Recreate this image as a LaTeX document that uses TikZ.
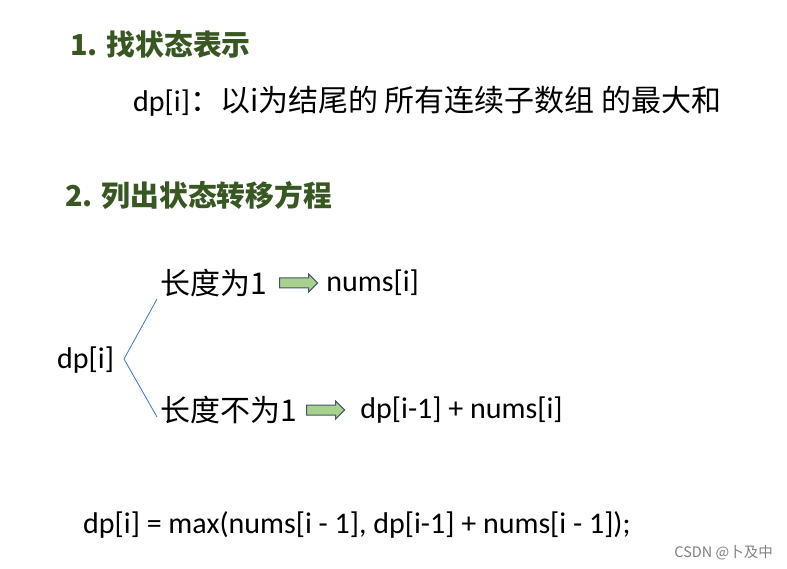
\documentclass[tikz,border=0pt]{standalone}
\usepackage{fontspec}
\setmainfont{Carlito}
\newfontfamily\cjk{Noto Sans CJK SC}
\usepackage{xcolor}
\usetikzlibrary{positioning,shapes.arrows}
\definecolor{headgreen}{HTML}{385723}
\definecolor{arrowfill}{HTML}{A9D18E}
\definecolor{arrowline}{HTML}{44546A}
\definecolor{branchblue}{HTML}{4472C4}
\newcommand{\zh}[1]{{\cjk\fontsize{30}{36}\selectfont #1}}

\begin{document}
\begin{tikzpicture}[
  x=1pt, y=-1pt,
  head/.style={anchor=west, inner sep=0pt, text=headgreen, font=\cjk\bfseries\fontsize{28.8}{34}\selectfont},
  txt/.style={anchor=west, inner sep=0pt, font=\fontsize{30}{36}\selectfont},
  blockarrow/.style={single arrow, draw=arrowline, fill=arrowfill, line width=1pt,
    inner xsep=0pt, inner ysep=4.5pt, minimum height=38pt,
    single arrow head extend=4pt, single arrow head indent=0pt, anchor=west}
]
\useasboundingbox (0,0) rectangle (787,569);

% headings
\node[head] (h1) at (70,44) {1. 找状态表示};
\node[txt] (def) at (133,101) {dp[i]\zh{：以i为结尾的 所有连续子数组 的最大和}};
\node[head] (h2) at (65,195) {2. 列出状态转移方程};

% branches
\node[txt] (dp) at (57,360) {dp[i]};
\coordinate (fork) at (124,359);
\coordinate (up) at (157,299);
\coordinate (down) at (157,417);
\node[txt] (len1) at (160,283) {\zh{长度为1}};
\node[blockarrow, right=12pt of len1] (arr1) {};
\node[txt, right=8pt of arr1] (res1) {nums[i]};
\node[txt] (len2) at (160,410) {\zh{长度不为1}};
\node[blockarrow, right=9pt of len2] (arr2) {};
\node[txt, right=15pt of arr2] (res2) {dp[i-1] + nums[i]};
\draw[branchblue, line width=0.8pt] (up) -- (fork) -- (down);

% result
\node[txt] (eq) at (83,525) {dp[i] = max(nums[i - 1], dp[i-1] + nums[i - 1]);};
\node[anchor=east, inner sep=0pt, text=gray, font=\cjk\fontsize{14.5}{17}\selectfont] (mark) at (773,553) {CSDN @卜及中};
\end{tikzpicture}
\end{document}
